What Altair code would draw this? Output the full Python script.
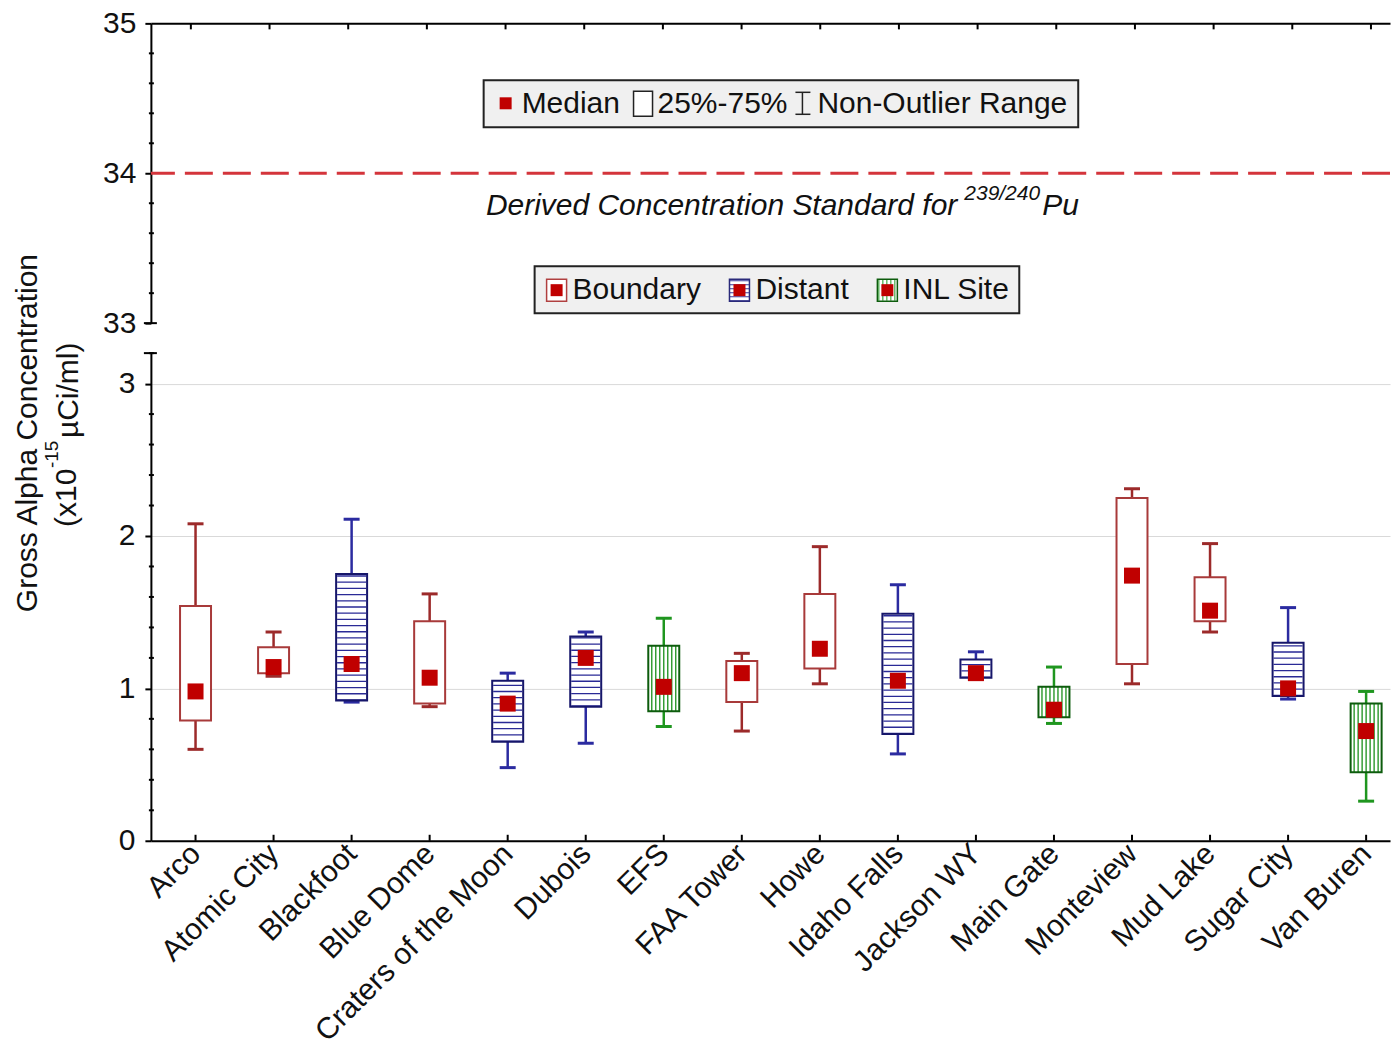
import json
import altair as alt
import pandas as pd

# ---- data -----------------------------------------------------------------
sites = ["Arco", "Atomic City", "Blackfoot", "Blue Dome", "Craters of the Moon",
         "Dubois", "EFS", "FAA Tower", "Howe", "Idaho Falls", "Jackson WY",
         "Main Gate", "Monteview", "Mud Lake", "Sugar City", "Van Buren"]
groups = ["Boundary", "Boundary", "Distant", "Boundary", "Distant",
          "Distant", "INL Site", "Boundary", "Boundary", "Distant", "Distant",
          "INL Site", "Boundary", "Boundary", "Distant", "INL Site"]
whisker_low = [0.60, 1.08, 0.91, 0.88, 0.48, 0.64, 0.75, 0.72,
               1.03, 0.57, 1.06, 0.77, 1.03, 1.37, 0.93, 0.26]
q1 = [0.79, 1.10, 0.92, 0.90, 0.65, 0.88, 0.85, 0.91,
      1.13, 0.70, 1.07, 0.81, 1.16, 1.44, 0.95, 0.45]
median = [0.98, 1.14, 1.16, 1.07, 0.90, 1.20, 1.01, 1.10,
          1.26, 1.05, 1.10, 0.86, 1.74, 1.51, 1.00, 0.72]
q3 = [1.54, 1.27, 1.75, 1.44, 1.05, 1.34, 1.28, 1.18,
      1.62, 1.49, 1.19, 1.01, 2.25, 1.73, 1.30, 0.90]
whisker_high = [2.08, 1.37, 2.11, 1.62, 1.10, 1.37, 1.46, 1.23,
                1.93, 1.68, 1.24, 1.14, 2.31, 1.95, 1.53, 0.98]

dcs_value = 34  # derived concentration standard for 239/240Pu

top_ticks_major = [33, 34, 35]
top_ticks_minor = [33.2, 33.4, 33.6, 33.8, 34.2, 34.4, 34.6, 34.8]
bottom_ticks_major = [0, 1, 2, 3]
bottom_ticks_minor = [0.2, 0.4, 0.6, 0.8, 1.2, 1.4, 1.6, 1.8,
                      2.2, 2.4, 2.6, 2.8, 3.2]

group_names = ["Boundary", "Distant", "INL Site"]
whisker_colors = ["#9c2a2a", "#2b2ba0", "#1f961f"]
box_colors = ["#a83a3a", "#16166a", "#0d5c0d"]

df = pd.DataFrame({
    "idx": list(range(len(sites))), "site": sites, "group": groups,
    "lo": whisker_low, "q1": q1, "med": median, "q3": q3, "hi": whisker_high,
})
idx_df = pd.DataFrame({"idx": list(range(len(sites)))})
one = pd.DataFrame({"a": [0]})

# ---- layout constants -----------------------------------------------------
W = 1240
H_TOP = 300
H_BOT = 488
FONT = "Liberation Sans"
INK = "#111111"

x_scale = alt.Scale(domain=[-0.508, 15.242], nice=False, zero=False)
wcol = alt.Color("group:N", scale=alt.Scale(domain=group_names, range=whisker_colors), legend=None)
bstroke = alt.Stroke("group:N", scale=alt.Scale(domain=group_names, range=box_colors), legend=None)

label_expr = json.dumps(sites) + "[datum.value]"

# ---- top panel (33 - 35) --------------------------------------------------
y_top = alt.Scale(domain=[33, 35], nice=False, zero=False)
y_top_axis = alt.Axis(values=top_ticks_major, labelExpr="format(datum.value, '.0f')",
                      tickSize=6, tickWidth=2,
                      tickColor="black", domainColor="black", domainWidth=2, grid=False,
                      title=None, labelFont=FONT, labelFontSize=30, labelColor=INK,
                      labelPadding=9, labelOverlap=False, labelBound=False)
x_top = alt.X("idx:Q", scale=x_scale,
              axis=alt.Axis(orient="top", labels=False, ticks=False, grid=False, title=None,
                            domainColor="black", domainWidth=2))

top_ticks = alt.Chart(idx_df).mark_rule(color="black", strokeWidth=2).encode(
    x=x_top, y=alt.value(0), y2=alt.value(6))

dcs_line = alt.Chart(one).mark_rule(color="#d4343b", strokeWidth=3, strokeDash=[28, 10]).encode(
    y=alt.Y(datum=dcs_value, type="quantitative", scale=y_top, axis=y_top_axis))

top_minor = alt.Chart(pd.DataFrame({"v": top_ticks_minor})).mark_rule(
    color="black", strokeWidth=2).encode(
    x=alt.value(-2), x2=alt.value(3), y=alt.Y("v:Q", scale=y_top, axis=y_top_axis))
top_cap = alt.Chart(one).mark_rule(color="black", strokeWidth=2).encode(
    x=alt.value(-7), x2=alt.value(6), y=alt.value(H_TOP))


def txt(x, y, s, size=30, align="left", style="normal"):
    return alt.Chart(one).mark_text(
        text=s, font=FONT, fontSize=size, fontStyle=style, align=align,
        baseline="middle", color=INK).encode(x=alt.value(x), y=alt.value(y))


dcs_text = [
    txt(807, 183, "Derived Concentration Standard for ", style="italic", align="right"),
    txt(814, 171, "239/240", size=21, style="italic"),
    txt(892, 183, "Pu", style="italic"),
]

# legend: statistics
leg1 = [
    alt.Chart(one).mark_rect(fill="#f0f0f0", stroke="#222222", strokeWidth=2).encode(
        x=alt.value(333), x2=alt.value(928), y=alt.value(57), y2=alt.value(104)),
    alt.Chart(one).mark_rect(fill="#c00000").encode(
        x=alt.value(349), x2=alt.value(361), y=alt.value(74), y2=alt.value(86)),
    txt(371, 81, "Median"),
    alt.Chart(one).mark_rect(fill="white", stroke="#222222", strokeWidth=1.5).encode(
        x=alt.value(483), x2=alt.value(502), y=alt.value(68), y2=alt.value(93)),
    txt(507, 81, "25%-75%"),
    alt.Chart(one).mark_rule(color="#222222", strokeWidth=1.5).encode(
        x=alt.value(652), y=alt.value(69), y2=alt.value(91)),
    alt.Chart(one).mark_rule(color="#222222", strokeWidth=1.5).encode(
        x=alt.value(645), x2=alt.value(660), y=alt.value(69)),
    alt.Chart(one).mark_rule(color="#222222", strokeWidth=1.5).encode(
        x=alt.value(645), x2=alt.value(660), y=alt.value(91)),
    txt(667, 81, "Non-Outlier Range"),
]

# legend: station groups
leg2 = [
    alt.Chart(one).mark_rect(fill="#f0f0f0", stroke="#222222", strokeWidth=2).encode(
        x=alt.value(384), x2=alt.value(869), y=alt.value(243), y2=alt.value(290)),
    # Boundary icon
    alt.Chart(one).mark_rect(fill="white", stroke="#b04040", strokeWidth=1.5).encode(
        x=alt.value(396), x2=alt.value(416), y=alt.value(256), y2=alt.value(278)),
    alt.Chart(one).mark_rect(fill="#c00000").encode(
        x=alt.value(400), x2=alt.value(412), y=alt.value(261), y2=alt.value(273)),
    txt(422, 267, "Boundary"),
    # Distant icon
    alt.Chart(one).mark_rect(fill="white").encode(
        x=alt.value(579), x2=alt.value(599), y=alt.value(256), y2=alt.value(278)),
    alt.Chart(one).mark_rule(color="#3a3a9a", strokeWidth=19, strokeDash=[1, 3]).encode(
        x=alt.value(589), y=alt.value(257), y2=alt.value(278)),
    alt.Chart(one).mark_rect(fill="#c00000").encode(
        x=alt.value(583), x2=alt.value(595), y=alt.value(261), y2=alt.value(273)),
    alt.Chart(one).mark_rect(fill=None, stroke="#2a2a7a", strokeWidth=1.5).encode(
        x=alt.value(579), x2=alt.value(599), y=alt.value(256), y2=alt.value(278)),
    txt(605, 267, "Distant"),
    # INL Site icon
    alt.Chart(one).mark_rect(fill="white").encode(
        x=alt.value(727), x2=alt.value(747), y=alt.value(256), y2=alt.value(278)),
    alt.Chart(one).mark_rule(color="#1f961f", strokeWidth=21, strokeDash=[1, 3]).encode(
        x=alt.value(728), x2=alt.value(747), y=alt.value(267)),
    alt.Chart(one).mark_rect(fill="#c00000").encode(
        x=alt.value(731), x2=alt.value(743), y=alt.value(261), y2=alt.value(273)),
    alt.Chart(one).mark_rect(fill=None, stroke="#0d5c0d", strokeWidth=1.5).encode(
        x=alt.value(727), x2=alt.value(747), y=alt.value(256), y2=alt.value(278)),
    txt(753, 267, "INL Site"),
]

top = alt.layer(dcs_line, top_ticks, top_minor, top_cap, *dcs_text, *leg1, *leg2).properties(
    width=W, height=H_TOP)

# ---- bottom panel (0 - 3.2) -----------------------------------------------
y_bot = alt.Scale(domain=[0, 3.2], nice=False, zero=False)
y_bot_axis = alt.Axis(values=bottom_ticks_major, tickSize=6, tickWidth=2, tickColor="black",
                      domainColor="black", domainWidth=2, grid=True, gridColor="#d9d9d9",
                      gridWidth=1, title=None, labelFont=FONT, labelFontSize=30,
                      labelColor=INK, labelPadding=10, labelOverlap=False, labelBound=False)
x_bot = alt.X("idx:Q", scale=x_scale,
              axis=alt.Axis(values=list(range(len(sites))), labelExpr=label_expr,
                            labelAngle=-45, labelAlign="right", labelBaseline="middle",
                            labelFont=FONT, labelFontSize=30, labelColor=INK,
                            labelPadding=8, labelOverlap=False, labelLimit=500,
                            ticks=False, grid=False,
                            title=None, domainColor="black", domainWidth=2))


def yb(field):
    return alt.Y(field, scale=y_bot, axis=y_bot_axis)


base = alt.Chart(df)

whisker = base.mark_rule(strokeWidth=2.5).encode(
    x=x_bot, y=yb("lo:Q"), y2="hi:Q", color=wcol)
cap_lo = base.mark_tick(orient="horizontal", size=16, thickness=3, opacity=1).encode(
    x=x_bot, y=yb("lo:Q"), color=wcol)
cap_hi = base.mark_tick(orient="horizontal", size=16, thickness=3, opacity=1).encode(
    x=x_bot, y=yb("hi:Q"), color=wcol)
box_fill = base.mark_bar(size=31, fill="white").encode(
    x=x_bot, y=yb("q1:Q"), y2="q3:Q")

# horizontal hatching for distant stations
hatch_h = base.transform_filter("datum.group == 'Distant'").mark_rule(
    color="#2a2a96", strokeWidth=29, strokeDash=[1.3, 4.9]).encode(
    x=x_bot, y=yb("q1:Q"), y2="q3:Q")

# vertical hatching for INL Site stations
hatch_v = [
    base.transform_filter("datum.group == 'INL Site'").mark_rule(
        color="#1a8f1a", strokeWidth=1.3, xOffset=off).encode(
        x=x_bot, y=yb("q1:Q"), y2="q3:Q")
    for off in (-12, -8, -4, 0, 4, 8, 12)
]

box_edge = base.mark_bar(size=31, fillOpacity=0, strokeWidth=2).encode(
    x=x_bot, y=yb("q1:Q"), y2="q3:Q", stroke=bstroke)
medians = base.mark_square(size=256, color="#c00000", opacity=1, filled=True).encode(
    x=x_bot, y=yb("med:Q"))

bot_ticks = alt.Chart(idx_df).mark_rule(color="black", strokeWidth=2).encode(
    x=x_bot, y=alt.value(H_BOT - 6), y2=alt.value(H_BOT))
bot_minor = alt.Chart(pd.DataFrame({"v": bottom_ticks_minor})).mark_rule(
    color="black", strokeWidth=2).encode(
    x=alt.value(-2), x2=alt.value(3), y=yb("v:Q"))
bot_cap = alt.Chart(one).mark_rule(color="black", strokeWidth=2).encode(
    x=alt.value(-7), x2=alt.value(6), y=alt.value(0))


def vtxt(x, y, s, size=30, align="center"):
    return alt.Chart(one).mark_text(
        text=s, font=FONT, fontSize=size, angle=270, align=align,
        baseline="middle", color=INK).encode(x=alt.value(x), y=alt.value(y))


y_title = [
    vtxt(-123, 80, "Gross Alpha Concentration"),
    vtxt(-84, 174, "(x10", align="left"),
    vtxt(-99, 115, "-15", size=19, align="left"),
    vtxt(-82, 85, "\u00b5Ci/ml)", align="left"),
]

bottom = alt.layer(whisker, cap_lo, cap_hi, box_fill, hatch_h, *hatch_v, box_edge, medians,
                   bot_ticks, bot_minor, bot_cap, *y_title).properties(width=W, height=H_BOT)

chart = alt.vconcat(top, bottom, spacing=30, bounds="flush").properties(
    padding={"left": 12, "top": 8, "right": 3, "bottom": 0},
    background="white",
).configure_view(stroke=None)

chart.save("out.html", embed_options={"renderer": "svg", "actions": False})
